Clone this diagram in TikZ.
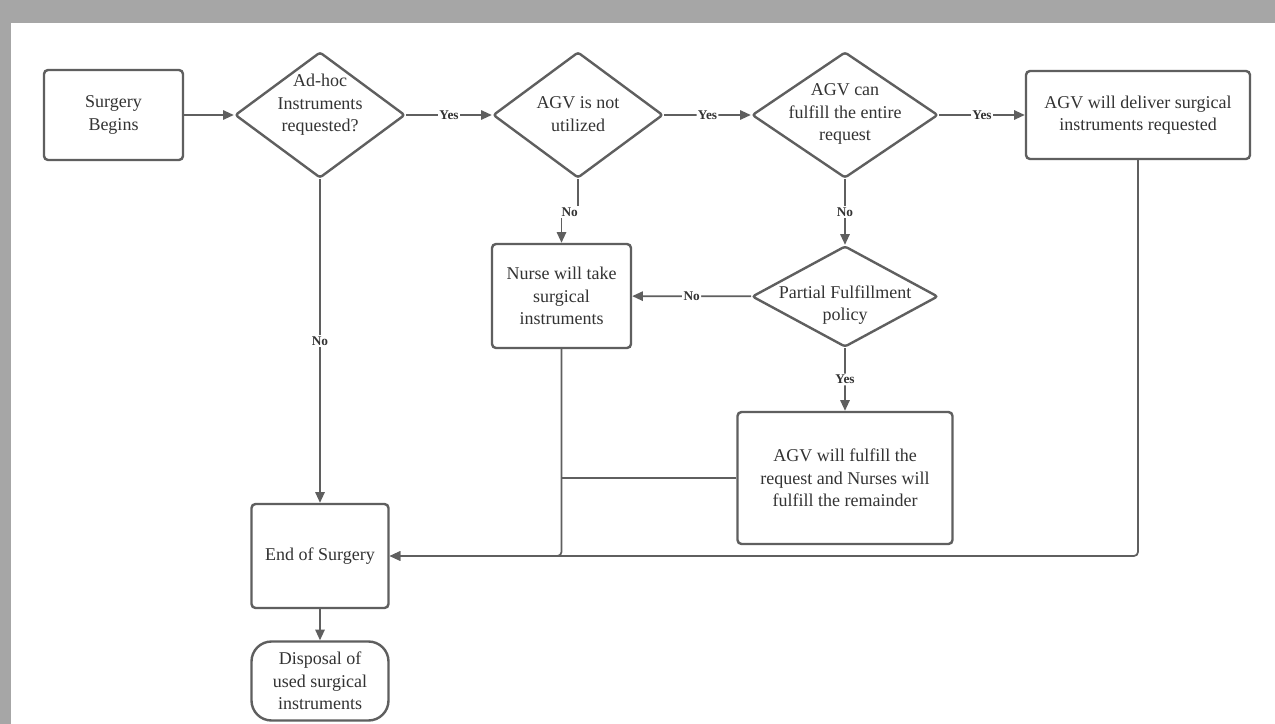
\documentclass[tikz,border=0pt]{standalone}
\usepackage{fontspec}
\setmainfont{Liberation Serif}
\usepackage{tikz}
\usetikzlibrary{shapes.geometric}
\usetikzlibrary{arrows.meta}
\definecolor{framegray}{HTML}{A6A6A6}
\definecolor{linegray}{HTML}{5F5F5F}
\definecolor{inkgray}{HTML}{333333}

\begin{document}
\begin{tikzpicture}[
            x=0.75pt, y=-0.75pt,
            proc-node/.style={rectangle,rounded corners=3pt,draw=linegray,line width=1.8pt,fill=white,
                text=inkgray,align=center,font=\fontsize{13.5}{16.9}\selectfont,inner sep=2pt},
            ask-node/.style={diamond,rounded corners=2pt,draw=linegray,line width=1.8pt,fill=white,inner sep=0pt},
            ask-text/.style={text=inkgray,align=center,font=\fontsize{13.5}{16.9}\selectfont,inner sep=0pt},
            flow/.style={draw=linegray,line width=1.3pt,rounded corners=3pt,-{Triangle[length=8pt,width=7pt]}},
            merge-line/.style={draw=linegray,line width=1.3pt},
            tag/.style={fill=white,text=inkgray,font=\bfseries\fontsize{10}{12}\selectfont,inner sep=1pt},
        ]
            \useasboundingbox (0,0) rectangle (1275,724);
            \fill[framegray] (0,0) rectangle (1275,724);
            \fill[white] (11,23) rectangle (1275,724);

            % top row
            \node[proc-node,minimum width=104.25pt,minimum height=67.5pt] (begin) at (113.5,115) {Surgery\\Begins};
            \node[ask-node,minimum width=127.5pt,minimum height=94.5pt] (q1) at (320,115) {};
            \node[ask-text] (q1-text) at (320,105) {Ad-hoc\\Instruments\\requested?};
            \node[ask-node,minimum width=127.5pt,minimum height=94.5pt] (q2) at (578,115) {};
            \node[ask-text] (q2-text) at (578,114) {AGV is not\\utilized};
            \node[ask-node,minimum width=139.5pt,minimum height=94.5pt] (q3) at (845,115) {};
            \node[ask-text] (q3-text) at (845,114) {AGV can\\fulfill the entire\\request};
            \node[proc-node,minimum width=168pt,minimum height=66pt] (deliver) at (1138,115) {AGV will deliver surgical\\instruments requested};

            % middle
            \node[proc-node,minimum width=104.25pt,minimum height=78pt] (nurse) at (561.5,296) {Nurse will take\\surgical\\instruments};
            \node[ask-node,minimum width=139.5pt,minimum height=75.75pt] (q4) at (845,296.5) {};
            \node[ask-text] (q4-text) at (845,305) {Partial Fulfillment\\policy};
            \node[proc-node,minimum width=161.25pt,minimum height=99pt] (fulfill) at (845,478) {AGV will fulfill the\\request and Nurses will\\fulfill the remainder};

            % bottom
            \node[proc-node,minimum width=102.75pt,minimum height=78pt] (end) at (320,556) {End of Surgery};
            \node[proc-node,rounded corners=15pt,minimum width=102.75pt,minimum height=59.25pt] (disposal) at (320,681) {Disposal of\\used surgical\\instruments};
            \coordinate (merge) at (nurse.south |- fulfill.west);

            \draw[flow] (begin) -- (q1);
            \draw[flow] (q1) -- node[tag] {Yes} (q2);
            \draw[flow] (q2) -- node[tag] {Yes} (q3);
            \draw[flow] (q3) -- node[tag] {Yes} (deliver);
            \draw[flow,rounded corners=0pt] (q2.south) -- ++(0,33) -| node[tag,pos=0.25] {No} (nurse.north);
            \draw[flow] (q3) -- node[tag] {No} (q4);
            \draw[flow] (q4) -- node[tag] {No} (nurse);
            \draw[flow] (q4) -- node[tag] {Yes} (fulfill);
            \draw[flow] (q1) -- node[tag] {No} (end);
            \draw[flow] (nurse.south) |- (end.east);
            \draw[flow] (deliver.south) |- (end.east);
            \draw[merge-line] (fulfill.west) -- (merge);
            \draw[flow] (end) -- (disposal);
        \end{tikzpicture}
\end{document}
